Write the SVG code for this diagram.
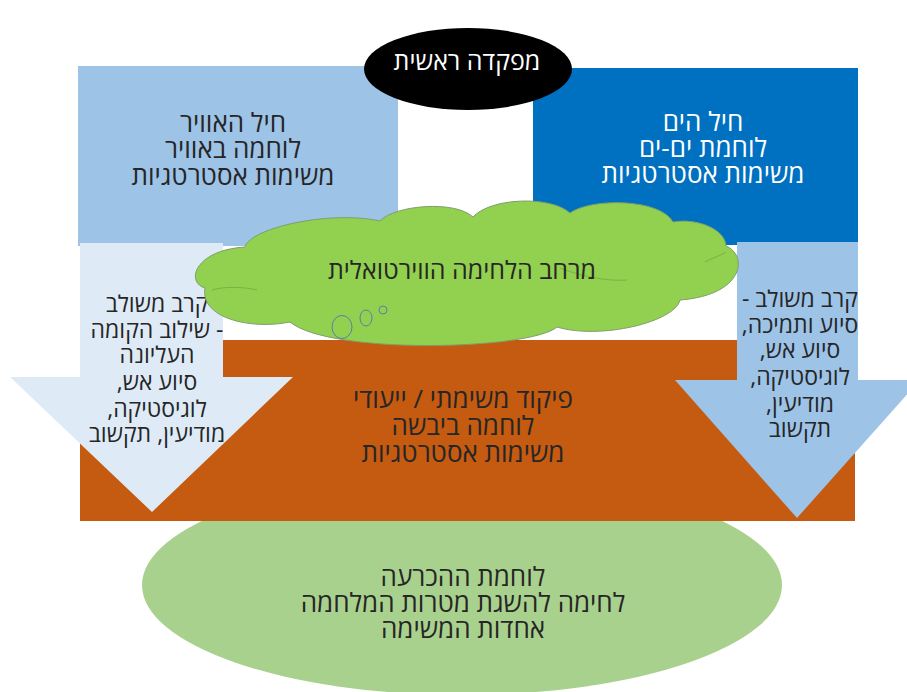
<svg xmlns="http://www.w3.org/2000/svg" width="907" height="692" viewBox="0 0 907 692">
<style>
text{font-family:"Open Sans","Liberation Sans","DejaVu Sans",sans-serif;direction:rtl;text-anchor:middle;font-weight:500;}
.t{font-size:26px;fill:#262626;}
.w{font-size:26px;fill:#ffffff;}
.s{font-size:23px;fill:#262626;}
.bub{fill:#92D050;stroke:#5B7FA5;stroke-width:1;}
.inner{fill:none;stroke:#7FB040;stroke-width:1;}
</style>
<rect width="907" height="692" fill="#ffffff"/>
<g id="air-force">
<rect x="78" y="66" width="320" height="180" fill="#9DC3E6"/>
<text class="t"><tspan x="233" y="132">חיל האוויר</tspan><tspan x="233" y="158">לוחמה באוויר</tspan><tspan x="233" y="185">משימות אסטרטגיות</tspan></text>
</g>
<g id="navy">
<rect x="533" y="68" width="325" height="177" fill="#0070C0"/>
<text class="w"><tspan x="703" y="131">חיל הים</tspan><tspan x="703" y="157">לוחמת ים-ים</tspan><tspan x="703" y="183">משימות אסטרטגיות</tspan></text>
</g>
<g id="victory">
<ellipse cx="462" cy="585" rx="320" ry="110" fill="#A9D18E"/>
<text class="t"><tspan x="463" y="586">לוחמת ההכרעה</tspan><tspan x="463" y="612">לחימה להשגת מטרות המלחמה</tspan><tspan x="463" y="638">אחדות המשימה</tspan></text>
</g>
<g id="ground">
<rect x="80" y="340" width="775" height="181" fill="#C55A11"/>
<text class="t"><tspan x="463" y="408">פיקוד משימתי / ייעודי</tspan><tspan x="463" y="435">לוחמה ביבשה</tspan><tspan x="463" y="462">משימות אסטרטגיות</tspan></text>
</g>
<g id="air-support">
<polygon points="80,243 223,243 223,377 293,377 152,512 10,377 80,377" fill="#DEEBF7"/>
<text class="s"><tspan x="157" y="312">קרב משולב</tspan><tspan x="157" y="338">- שילוב הקומה</tspan><tspan x="157" y="363">העליונה</tspan><tspan x="157" y="390">סיוע אש,</tspan><tspan x="157" y="417">לוגיסטיקה,</tspan><tspan x="157" y="442">מודיעין, תקשוב</tspan></text>
</g>
<g id="sea-support">
<polygon points="737,242 858,242 858,380 920,380 797,518 675,380 737,380" fill="#9DC3E6"/>
<text class="s"><tspan x="800" y="307">קרב משולב -</tspan><tspan x="800" y="333">סיוע ותמיכה,</tspan><tspan x="800" y="358">סיוע אש,</tspan><tspan x="800" y="385">לוגיסטיקה,</tspan><tspan x="800" y="412">מודיעין,</tspan><tspan x="800" y="437">תקשוב</tspan></text>
</g>
<g id="virtual">
<path d="M205,288 C185,282 195,250 245,247 C250,228 330,210 380,221 C395,205 455,200 473,217 C490,198 550,195 570,213 C590,198 660,198 673,222 C695,218 725,228 726,246 C748,255 745,295 680,300 C675,322 600,340 557,327 C530,350 330,355 290,322 C250,330 200,318 205,288 Z" fill="#92D050" stroke="#7E9E6A" stroke-width="1"/>
<path class="inner" d="M212,290 C225,286 245,287 257,290"/>
<path class="inner" d="M627,280 C600,282 570,272 560,268"/>
<path class="inner" d="M705,262 C712,258 720,256 726,252"/>
<ellipse class="bub" cx="342" cy="327" rx="10" ry="11.5"/>
<ellipse class="bub" cx="366" cy="318" rx="6" ry="8"/>
<circle class="bub" cx="383" cy="310" r="4"/>
<text class="t" x="462" y="279" style="font-size:25px">מרחב הלחימה הווירטואלית</text>
</g>
<g id="hq">
<ellipse cx="468" cy="69" rx="104" ry="41" fill="#000000"/>
<text class="w" x="467" y="70" style="font-size:25px">מפקדה ראשית</text>
</g>
<g id="connectors"/>
</svg>
